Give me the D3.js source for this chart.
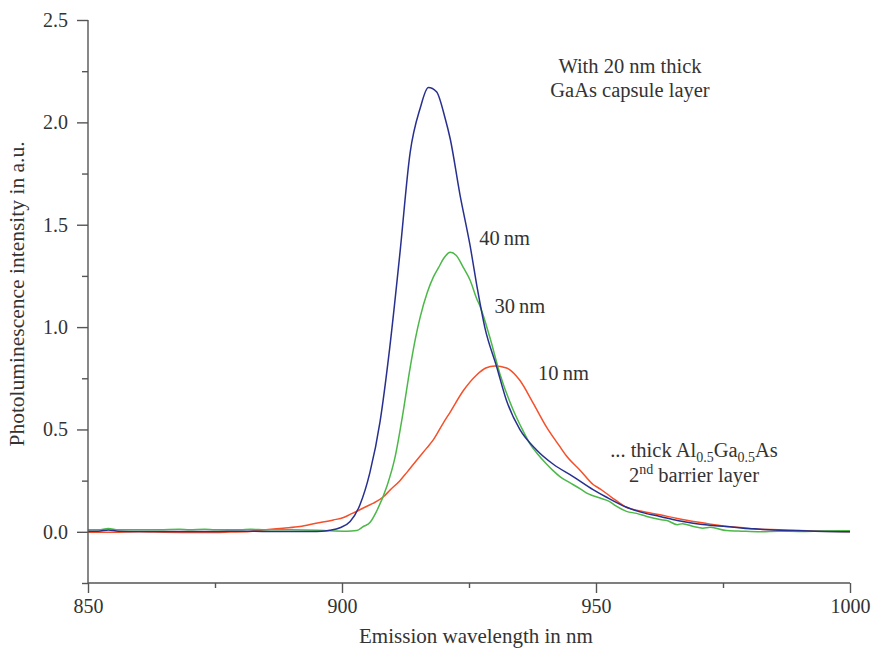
<!DOCTYPE html>
<html>
<head>
<meta charset="utf-8">
<script src="https://cdn.jsdelivr.net/npm/d3@7"></script>
<style>
  body { margin: 0; background: #fff; }
  text { font-family: 'Liberation Serif', 'DejaVu Serif', serif; fill: #333; }
  .axis path, .axis line { stroke: #555; stroke-width: 1.4; }
  .axis text { font-size: 20px; fill: #333; font-family: 'Liberation Serif', serif; }
</style>
</head>
<body>
<div id="chart"></div>
<script>
// 40 nm curve
const wl40 = [850, 852, 854, 856, 860, 865, 870, 875, 880, 885, 890, 894, 896, 897.6, 899.6, 901.6, 903.5, 905.5, 907.5, 909.4, 911.4, 913.4, 915.4, 917.0, 918.6, 920.3, 921.3, 923.2, 925.2, 926.7, 928.1, 930.4, 932.4, 935.0, 938.3, 941.6, 945.5, 949.5, 952, 956.0, 959, 962.6, 966, 969.1, 972, 975.7, 979, 982.3, 985, 988.8, 992, 995, 1000]
const pl40 = [0.003, 0.003, 0.009, 0.003, 0.002, 0.002, 0.002, 0.002, 0.003, 0.002, 0.002, 0.002, 0.003, 0.008, 0.02, 0.05, 0.13, 0.29, 0.54, 0.90, 1.36, 1.85, 2.07, 2.17, 2.15, 2.02, 1.92, 1.65, 1.40, 1.18, 1.00, 0.81, 0.64, 0.50, 0.40, 0.33, 0.27, 0.205, 0.17, 0.12, 0.095, 0.075, 0.055, 0.042, 0.033, 0.026, 0.018, 0.013, 0.009, 0.006, 0.004, 0.002, 0.0]

// 30 nm curve
const wl30 = [850, 852, 854, 856, 860, 864, 868, 870, 873, 875, 880, 882, 885, 890, 895, 897.6, 900.9, 902.9, 904.2, 905.5, 906.8, 908.8, 910.4, 912, 913.4, 914.5, 915.4, 916.8, 918.0, 919, 920.0, 921.3, 922.5, 923.9, 925.2, 926.5, 927.2, 929.1, 931.1, 933.7, 935.5, 937.0, 938.5, 940.3, 941.5, 942.9, 944.5, 946.9, 948.5, 950.8, 952.5, 954, 956.0, 958, 960, 962.6, 964, 966, 967, 969.2, 971, 972.5, 975.7, 978, 982.3, 986, 990, 995, 1000]
const pl30 = [0.01, 0.01, 0.016, 0.01, 0.01, 0.01, 0.012, 0.01, 0.013, 0.01, 0.01, 0.012, 0.01, 0.01, 0.008, 0.005, 0.003, 0.006, 0.026, 0.045, 0.10, 0.22, 0.36, 0.58, 0.80, 0.95, 1.05, 1.17, 1.245, 1.29, 1.335, 1.365, 1.35, 1.29, 1.23, 1.14, 1.10, 0.95, 0.77, 0.595, 0.50, 0.43, 0.38, 0.33, 0.30, 0.27, 0.245, 0.21, 0.185, 0.165, 0.15, 0.125, 0.10, 0.09, 0.075, 0.06, 0.055, 0.035, 0.04, 0.026, 0.018, 0.022, 0.006, 0.004, 0.0, 0.003, 0.002, 0.004, 0.005]

// 10 nm curve
const wl10 = [850, 855, 860, 865, 870, 875, 878, 881.9, 885, 888.4, 891.7, 894.9, 898.3, 900.3, 901.6, 902.9, 904.9, 906.2, 908.1, 909.5, 911.4, 912.7, 914.7, 916.7, 918.0, 919.9, 921.3, 923.9, 926.5, 928.3, 930.1, 932.4, 935.0, 937.6, 940.3, 942.9, 944.2, 946.9, 949.5, 950.8, 953, 956.0, 959, 962.6, 966, 969.2, 972, 975.7, 979, 982.3, 986, 990, 995, 1000]
const pl10 = [-0.002, -0.002, 0.0, -0.002, -0.003, -0.003, -0.001, 0.002, 0.01, 0.018, 0.026, 0.042, 0.058, 0.07, 0.085, 0.10, 0.125, 0.14, 0.17, 0.205, 0.25, 0.288, 0.35, 0.41, 0.45, 0.53, 0.585, 0.69, 0.766, 0.80, 0.81, 0.80, 0.74, 0.63, 0.51, 0.416, 0.37, 0.30, 0.23, 0.21, 0.17, 0.12, 0.10, 0.083, 0.065, 0.05, 0.04, 0.026, 0.02, 0.012, 0.01, 0.006, 0.003, 0.0]

const seriesNames = ['10 nm', '30 nm', '40 nm']
const seriesColors = ['#f5502a', '#4cb848', '#28308f']

const xMajorTicks = [850, 900, 950, 1000]
const xMinorTicks = [875, 925, 975]
const yMajorTicks = [0, 0.5, 1.0, 1.5, 2.0, 2.5]
const yMinorTicks = [-0.25, 0.25, 0.75, 1.25, 1.75, 2.25]

const margin = { top: 20, left: 88, right: 22, bottom: 70 }

const svg = d3
  .select('#chart')
  .append('svg')
  .attr('width', 872)
  .attr('height', 653)
  .append('g')
  .attr('transform', 'translate(' + margin.left + ',' + margin.top + ')')

const xPositionScale = d3.scaleLinear().domain([850, 1000]).range([0, 762])
const yPositionScale = d3.scaleLinear().domain([-0.25, 2.5]).range([563, 0])

const series = [
  { name: seriesNames[0], wl: wl10, pl: pl10, color: seriesColors[0] },
  { name: seriesNames[1], wl: wl30, pl: pl30, color: seriesColors[1] },
  { name: seriesNames[2], wl: wl40, pl: pl40, color: seriesColors[2] }
]

const line = d3
  .line()
  .x(d => xPositionScale(d[0]))
  .y(d => yPositionScale(d[1]))
  .curve(d3.curveMonotoneX)

svg
  .selectAll('.pl-line')
  .data(series)
  .enter()
  .append('path')
  .attr('class', 'pl-line')
  .attr('d', d => line(d.wl.map((w, i) => [w, d.pl[i]])))
  .attr('stroke', d => d.color)
  .attr('stroke-width', 1.5)
  .attr('fill', 'none')

// axes
const xAxis = d3.axisBottom(xPositionScale).tickValues(xMajorTicks).tickSize(10).tickPadding(6).tickFormat(d3.format('d'))
svg.append('g').attr('class', 'axis x-axis')
  .attr('transform', 'translate(0,563)')
  .call(xAxis)
svg.append('g').attr('class', 'axis x-minor')
  .attr('transform', 'translate(0,563)')
  .call(d3.axisBottom(xPositionScale).tickValues(xMinorTicks).tickSize(5).tickFormat(''))
svg.select('.x-minor .domain').remove()

const yAxis = d3.axisLeft(yPositionScale).tickValues(yMajorTicks).tickSize(11).tickPadding(9).tickFormat(d3.format('.1f'))
svg.append('g').attr('class', 'axis y-axis').call(yAxis)
svg.append('g').attr('class', 'axis y-minor')
  .call(d3.axisLeft(yPositionScale).tickValues(yMinorTicks).tickSize(6).tickFormat(''))
svg.select('.y-minor .domain').remove()
// plain lines instead of domain caps
svg.select('.x-axis .domain').attr('d', 'M0,0H762')
svg.select('.y-axis .domain').attr('d', 'M0,0V563')

// axis titles
svg.append('text')
  .attr('x', 388)
  .attr('y', 623)
  .attr('text-anchor', 'middle')
  .attr('font-size', 21)
  .text('Emission wavelength in nm')

svg.append('text')
  .attr('transform', 'translate(-64,' + 274 + ') rotate(-90)')
  .attr('text-anchor', 'middle')
  .attr('font-size', 21.5)
  .text('Photoluminescence intensity in a.u.')

// annotations
const ann = svg.append('g').attr('font-size', 20.5)
ann.append('text').attr('x', 542).attr('y', 53).attr('text-anchor', 'middle').text('With 20 nm thick')
ann.append('text').attr('x', 542).attr('y', 77).attr('text-anchor', 'middle').text('GaAs capsule layer')

ann.append('text').attr('x', xPositionScale(927)).attr('y', yPositionScale(1.42)).attr('dy', 4).text('40\u2009nm')
ann.append('text').attr('x', xPositionScale(930)).attr('y', yPositionScale(1.1)).attr('dy', 6).text('30\u2009nm')
ann.append('text').attr('x', xPositionScale(938.6)).attr('y', yPositionScale(0.74)).attr('dy', 0).text('10\u2009nm')

const t1 = ann.append('text').attr('x', 606).attr('y', 437).attr('text-anchor', 'middle')
t1.append('tspan').text('... thick Al')
t1.append('tspan').attr('font-size', 14).attr('dy', 5).text('0.5')
t1.append('tspan').attr('dy', -5).text('Ga')
t1.append('tspan').attr('font-size', 14).attr('dy', 5).text('0.5')
t1.append('tspan').attr('dy', -5).text('As')

const t2 = ann.append('text').attr('x', 606).attr('y', 462).attr('text-anchor', 'middle')
t2.append('tspan').text('2')
t2.append('tspan').attr('font-size', 14).attr('dy', -8).text('nd')
t2.append('tspan').attr('dy', 8).text(' barrier layer')
</script>
</body>
</html>
